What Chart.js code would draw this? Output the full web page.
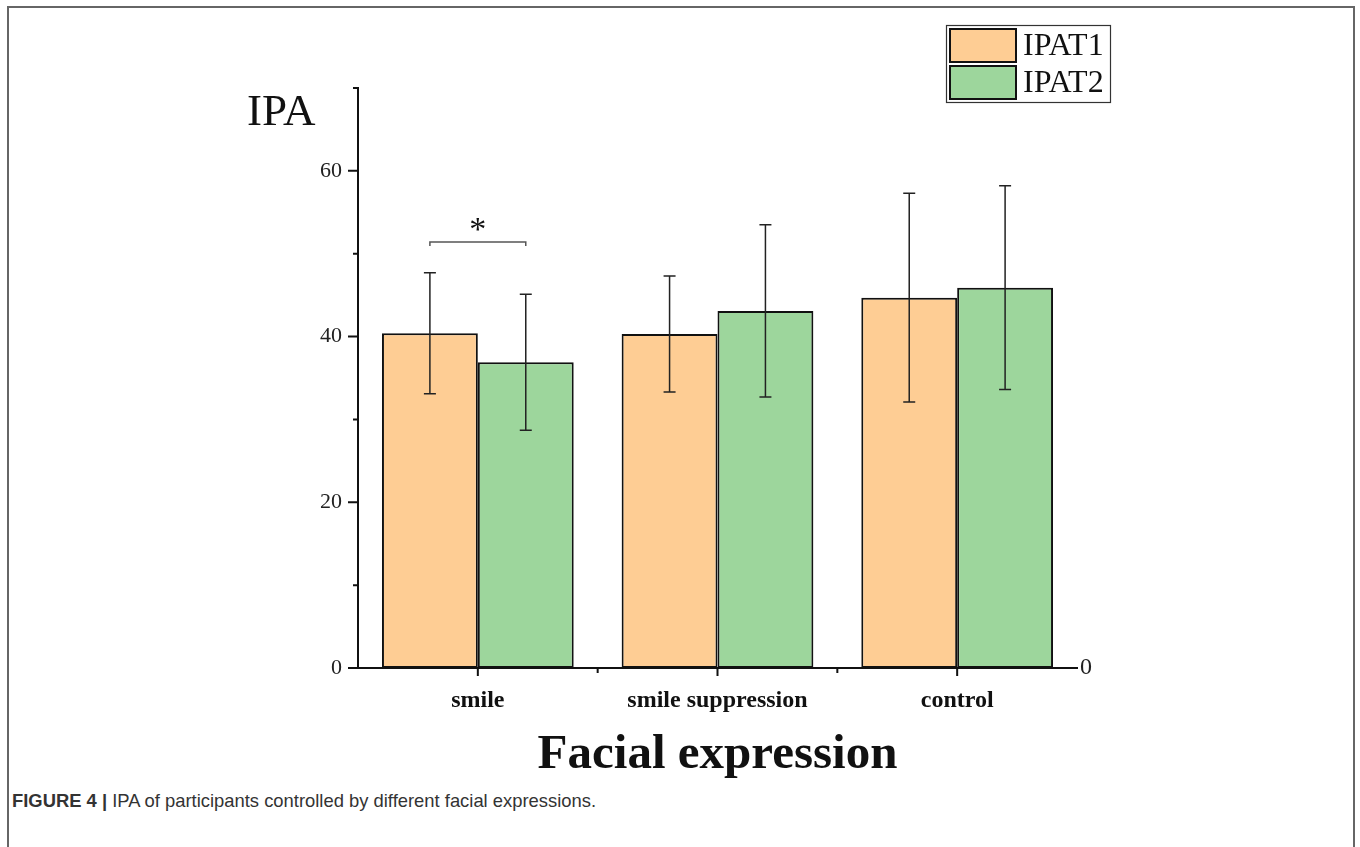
<!DOCTYPE html>
<html>
<head>
<meta charset="utf-8">
<script src="https://cdn.jsdelivr.net/npm/chart.js@4.4.1/dist/chart.umd.min.js"></script>
<style>
  html, body { margin: 0; padding: 0; background: #fff; }
  #wrap { position: relative; width: 1360px; height: 847px; overflow: hidden; }
  #frame { position: absolute; left: 7px; top: 6px; width: 1348px; height: 900px;
           border: 2px solid #666; border-bottom: none; box-sizing: border-box; }
  #grafico { position: absolute; left: 0; top: 0; }
  #caption { position: absolute; left: 12px; top: 790px; font-family: "Liberation Sans", Arial, sans-serif;
             font-size: 18.4px; color: #333; }
  #caption b { font-weight: bold; }
</style>
</head>
<body>
<div id="wrap">
  <div id="frame"></div>
  <canvas id="grafico" width="1360" height="780"></canvas>
  <div id="caption"><b>FIGURE 4 |</b> IPA of participants controlled by different facial expressions.</div>
</div>
<script>
// Datos
const categorias = ['smile', 'smile suppression', 'control'];
const ipat1 = [40.4, 40.3, 44.7];
const ipat2 = [36.9, 43.1, 45.9];
const errIpat1 = [7.3, 7.0, 12.6];
const errIpat2 = [8.2, 10.4, 12.3];
const yMayores = [0, 20, 40, 60];
const yMenores = [10, 30, 50, 70];
const nivelSignificancia = 51.4;   // altura del corchete "*"

const serif = '"Liberation Serif", "Times New Roman", serif';
const errores = [errIpat1, errIpat2];

// Barras de error
const pluginErrores = {
    id: 'errores',
    afterDatasetsDraw(chart) {
        const ctx = chart.ctx;
        const y = chart.scales.y;
        ctx.save();
        ctx.strokeStyle = '#222';
        ctx.lineWidth = 1.5;
        chart.data.datasets.forEach((ds, i) => {
            chart.getDatasetMeta(i).data.forEach((bar, j) => {
                const v = ds.data[j], e = errores[i][j];
                const top = y.getPixelForValue(v + e);
                const bot = y.getPixelForValue(v - e);
                ctx.beginPath();
                ctx.moveTo(bar.x, top); ctx.lineTo(bar.x, bot);
                ctx.moveTo(bar.x - 6, top); ctx.lineTo(bar.x + 6, top);
                ctx.moveTo(bar.x - 6, bot); ctx.lineTo(bar.x + 6, bot);
                ctx.stroke();
            });
        });
        ctx.restore();
    }
};

// Marcas de los ejes, leyenda, etiqueta "IPA" y corchete de significancia
const pluginDecoracion = {
    id: 'decoracion',
    afterDraw(chart) {
        const ctx = chart.ctx;
        const y = chart.scales.y, x = chart.scales.x;
        const area = chart.chartArea;
        ctx.save();
        ctx.strokeStyle = '#111';
        ctx.lineWidth = 2;
        ctx.beginPath();
        yMayores.forEach(v => { const p = y.getPixelForValue(v); ctx.moveTo(area.left - 10, p); ctx.lineTo(area.left, p); });
        yMenores.forEach(v => { const p = y.getPixelForValue(v); ctx.moveTo(area.left - 5, p); ctx.lineTo(area.left, p); });
        categorias.forEach((c, i) => {
            const p = x.getPixelForValue(i);
            ctx.moveTo(p, area.bottom); ctx.lineTo(p, area.bottom + 8);
            if (i < categorias.length - 1) {
                const m = (p + x.getPixelForValue(i + 1)) / 2;
                ctx.moveTo(m, area.bottom); ctx.lineTo(m, area.bottom + 5);
            }
        });
        ctx.stroke();

        // etiqueta del eje y
        ctx.fillStyle = '#111';
        ctx.font = '45px ' + serif;
        ctx.textAlign = 'left';
        ctx.textBaseline = 'alphabetic';
        ctx.fillText('IPA', 247, 125);

        // corchete de significancia sobre "smile"
        const b0 = chart.getDatasetMeta(0).data[0];
        const b1 = chart.getDatasetMeta(1).data[0];
        const ys = y.getPixelForValue(nivelSignificancia);
        ctx.strokeStyle = '#555';
        ctx.lineWidth = 1.5;
        ctx.beginPath();
        ctx.moveTo(b0.x, ys + 4); ctx.lineTo(b0.x, ys); ctx.lineTo(b1.x, ys); ctx.lineTo(b1.x, ys + 4);
        ctx.stroke();
        ctx.font = '34px ' + serif;
        ctx.textAlign = 'center';
        ctx.fillText('*', (b0.x + b1.x) / 2, ys - 2);

        // leyenda
        ctx.lineWidth = 1.2;
        ctx.strokeStyle = '#333';
        ctx.strokeRect(946.5, 25.5, 164, 77);
        ctx.font = '32px ' + serif;
        ctx.textAlign = 'left';
        ctx.textBaseline = 'middle';
        chart.data.datasets.forEach((ds, i) => {
            const top = 29 + i * 37;
            ctx.fillStyle = ds.backgroundColor;
            ctx.fillRect(950, top, 66, 33);
            ctx.lineWidth = 2;
            ctx.strokeStyle = '#111';
            ctx.strokeRect(950, top, 66, 33);
            ctx.fillStyle = '#111';
            ctx.fillText(ds.label, 1023, top + 18);
        });
        ctx.restore();
    }
};

const dataIpa = {
    labels: categorias,
    datasets: [{
        label: 'IPAT1',
        data: ipat1,
        backgroundColor: '#FECD94',
        borderColor: '#111',
        borderWidth: 2,
        borderSkipped: false,
    }, {
        label: 'IPAT2',
        data: ipat2,
        backgroundColor: '#9DD69C',
        borderColor: '#111',
        borderWidth: 2,
        borderSkipped: false,
    }]
};

const configIpa = {
    type: 'bar',
    data: dataIpa,
    options: {
        responsive: false,
        animation: false,
        devicePixelRatio: 1,
        layout: { padding: { top: 88, left: 0, right: 0, bottom: 0 } },
        categoryPercentage: 0.8,
        barPercentage: 1.0,
        plugins: {
            legend: { display: false },
            tooltip: { enabled: false },
            title: { display: false }
        },
        scales: {
            x: {
                grid: { display: false, drawTicks: false },
                border: { display: true, color: '#111', width: 2 },
                ticks: { color: '#111', padding: 18, font: { family: serif, size: 24, weight: 'bold' } },
                title: {
                    display: true,
                    text: 'Facial expression',
                    color: '#111',
                    font: { family: serif, size: 49, weight: 'bold', lineHeight: 1 },
                    padding: { top: 0, bottom: 0 }
                },
                afterFit(scale) { scale.height = 112; }
            },
            y: {
                min: 0,
                max: 70,
                grid: { display: false, drawTicks: false },
                border: { display: true, color: '#111', width: 2 },
                ticks: {
                    stepSize: 10,
                    padding: 16,
                    color: '#222',
                    font: { family: serif, size: 22 },
                    callback: v => yMayores.includes(v) ? v : ''
                },
                afterFit(scale) { scale.width = 358; }
            },
            y2: {
                position: 'right',
                min: 0,
                max: 70,
                grid: { display: false, drawTicks: false },
                border: { display: false },
                ticks: { padding: 3, color: '#222', font: { family: serif, size: 24 } },
                afterBuildTicks(scale) { scale.ticks = [{ value: 0 }]; },
                afterFit(scale) { scale.width = 283; }
            }
        }
    },
    plugins: [pluginErrores, pluginDecoracion]
};

new Chart(document.getElementById('grafico'), configIpa);
</script>
</body>
</html>
